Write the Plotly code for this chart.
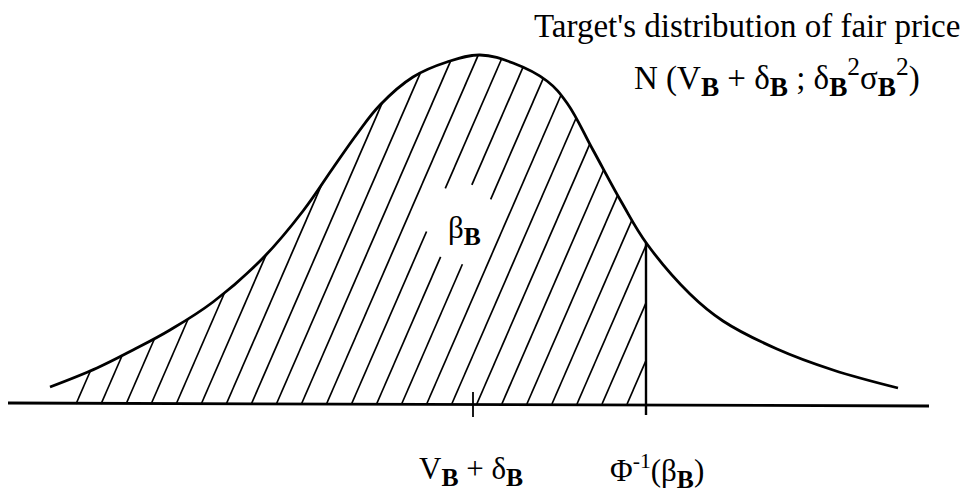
import numpy as np
import plotly.graph_objects as go

# Density curve of the target's fair price (x in drawing units, height above the axis)
curve_x = [50, 97, 133, 170, 213, 263, 303, 333, 357, 380, 413, 447, 480, 513,
           547, 567, 593, 622, 647, 690, 723, 777, 833, 898]
curve_h = [17, 36, 54, 74, 102, 146, 193, 236, 270, 299, 327, 342, 349, 341,
           323, 301, 254, 201, 160, 110, 83, 55, 34, 16]

# Horizontal axis
axis_x = [8, 929]
axis_h = [1, -2]

# Marked positions on the axis
mean_x = 473          # V_B + delta_B
cutoff_x = 646        # Phi^-1(beta_B)

SUB_B = '<sub><span style="font-size:118%;font-weight:bold">B</span></sub>'
SUP_2 = '<sup><span style="font-size:110%">2</span></sup>'

title_text = "Target's distribution of fair price"
dist_text = f"N (V{SUB_B} + δ{SUB_B} ; δ{SUB_B}{SUP_2}σ{SUB_B}{SUP_2})"
area_text = f"β{SUB_B}"
tick_labels = [f"V{SUB_B} + δ{SUB_B}", f"Φ<sup>-1</sup>(β{SUB_B})"]

FONT = "Liberation Serif, Times New Roman, serif"
INK = "black"


def catmull_rom(xs, ys, n=20):
    """Dense points along a Catmull-Rom spline through (xs, ys)."""
    p = np.column_stack([xs, ys]).astype(float)
    p = np.vstack([2 * p[0] - p[1], p, 2 * p[-1] - p[-2]])
    out = []
    for i in range(1, len(p) - 2):
        p0, p1, p2, p3 = p[i - 1], p[i], p[i + 1], p[i + 2]
        for t in np.linspace(0, 1, n, endpoint=False):
            t2, t3 = t * t, t * t * t
            out.append(0.5 * ((2 * p1) + (-p0 + p2) * t
                              + (2 * p0 - 5 * p1 + 4 * p2 - p3) * t2
                              + (-p0 + 3 * p1 - 3 * p2 + p3) * t3))
    out.append(p[-2])
    out = np.array(out)
    return out[:, 0], out[:, 1]


dense_x, dense_h = catmull_rom(curve_x, curve_h)


def curve_at(x):
    return float(np.interp(x, dense_x, dense_h))


# Hatching of the area under the curve left of the cutoff
hatch_start, hatch_step, hatch_slope = 76.0, 25.05, 2.3
label_c, label_r = (462.0, 180.0), (36.0, 40.0)   # clear space around the beta_B label

hx, hy = [], []
x0 = hatch_start
while x0 < cutoff_x:
    seg = []
    for t in np.arange(0, 400, 0.25):
        x, h = x0 + t, hatch_slope * t
        if x > cutoff_x or h > curve_at(x):
            break
        inside = ((x - label_c[0]) / label_r[0]) ** 2 + ((h - label_c[1]) / label_r[1]) ** 2 < 1
        if inside:
            if seg:
                hx += [seg[0][0], seg[-1][0], None]
                hy += [seg[0][1], seg[-1][1], None]
                seg = []
            continue
        seg.append((x, h))
    if seg:
        hx += [seg[0][0], seg[-1][0], None]
        hy += [seg[0][1], seg[-1][1], None]
    x0 += hatch_step

fig = go.Figure()

fig.add_trace(go.Scatter(x=hx, y=hy, mode="lines",
                         line=dict(color=INK, width=1.7), hoverinfo="skip"))

fig.add_trace(go.Scatter(x=axis_x, y=axis_h, mode="lines",
                         line=dict(color=INK, width=2.8), hoverinfo="skip"))

fig.add_trace(go.Scatter(x=curve_x, y=curve_h, mode="lines",
                         line=dict(color=INK, width=2.8, shape="spline", smoothing=1.1),
                         hoverinfo="skip"))

# Cutoff line and tick at the mean
fig.add_trace(go.Scatter(x=[cutoff_x, cutoff_x], y=[curve_at(cutoff_x), -11], mode="lines",
                         line=dict(color=INK, width=2.4), hoverinfo="skip"))
fig.add_trace(go.Scatter(x=[mean_x, mean_x], y=[12, -13], mode="lines",
                         line=dict(color=INK, width=1.8), hoverinfo="skip"))

annotations = [
    dict(x=962, y=378, text=title_text, xanchor="right", yanchor="middle",
         font=dict(size=33)),
    dict(x=922, y=327, text=dist_text, xanchor="right", yanchor="middle",
         font=dict(size=33)),
    dict(x=464, y=174, text=area_text, xanchor="center", yanchor="middle",
         font=dict(size=31)),
    dict(x=mean_x - 2, y=-67, text=tick_labels[0], xanchor="center", yanchor="middle",
         font=dict(size=31)),
    dict(x=cutoff_x + 11, y=-67, text=tick_labels[1], xanchor="center", yanchor="middle",
         font=dict(size=31)),
]
for a in annotations:
    a.update(xref="x", yref="y", showarrow=False)
    a["font"].update(family=FONT, color=INK)

fig.update_layout(
    width=969, height=494,
    margin=dict(l=0, r=0, t=0, b=0),
    paper_bgcolor="white", plot_bgcolor="white",
    showlegend=False,
    xaxis=dict(range=[0, 969], visible=False, fixedrange=True),
    yaxis=dict(range=[-90, 404], visible=False, fixedrange=True),
    annotations=annotations,
)

fig.write_html("out.html")
